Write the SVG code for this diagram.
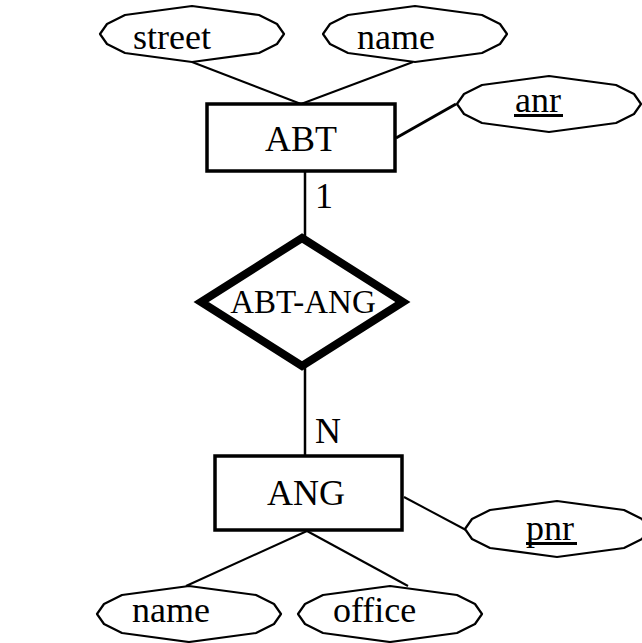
<svg xmlns="http://www.w3.org/2000/svg" xmlns:xlink="http://www.w3.org/1999/xlink" width="642" height="643" viewBox="0 0 642 643">
<style>
.t{font-family:"Liberation Serif","Times New Roman",serif;font-size:36px;fill:#000}
.ent{fill:#fff;stroke:#000;stroke-width:3.5}
.attr{fill:#fff;stroke:#000;stroke-width:2.2;stroke-linejoin:round}
.rel{fill:#fff;stroke:#000;stroke-width:8;stroke-linejoin:miter}
.c{stroke:#000;stroke-width:2;fill:none}
.ul{stroke:#000;stroke-width:3}
</style>
<defs>
<polygon id="ell" points="-92,0 -85,-10 -67,-19 0,-28 67,-19 85,-10 92,0 85,10 67,19 0,28 -67,19 -85,10"/>
</defs>
<rect width="642" height="643" fill="#fff"/>
<g id="connectors">
<line class="c" x1="192" y1="62" x2="301" y2="104"/>
<line class="c" x1="413" y1="62" x2="301" y2="104"/>
<line class="c" x1="396" y1="138" x2="456" y2="104" style="stroke-width:3"/>
<line class="c" x1="305" y1="172" x2="305" y2="238" style="stroke-width:2.5"/>
<line class="c" x1="305" y1="366" x2="305" y2="456" style="stroke-width:2.5"/>
<line class="c" x1="404" y1="497" x2="466" y2="530"/>
<line class="c" x1="307" y1="531" x2="186" y2="586"/>
<line class="c" x1="307" y1="531" x2="408" y2="586"/>
<text class="t" x="315" y="208">1</text>
<text class="t" x="315" y="443">N</text>
</g>
<g id="street">
<use xlink:href="#ell" href="#ell" class="attr" x="192" y="34"/>
<text class="t" x="133" y="49">street</text>
</g>
<g id="name_abt">
<use xlink:href="#ell" href="#ell" class="attr" x="415" y="34"/>
<text class="t" x="357" y="49">name</text>
</g>
<g id="anr">
<use xlink:href="#ell" href="#ell" class="attr" x="549" y="104"/>
<text class="t" x="515" y="112">anr</text>
<line class="ul" x1="514" y1="115.5" x2="563" y2="115.5"/>
</g>
<g id="ABT">
<rect class="ent" x="207" y="104" width="188" height="67"/>
<text class="t" x="301" y="151" text-anchor="middle">ABT</text>
</g>
<g id="ABT-ANG">
<polygon class="rel" points="302,238 403,302 302,366 201,302"/>
<text class="t" x="303" y="313" text-anchor="middle" style="font-size:33px">ABT-ANG</text>
</g>
<g id="ANG">
<rect class="ent" x="215" y="456" width="187" height="74"/>
<text class="t" x="306" y="505" text-anchor="middle">ANG</text>
</g>
<g id="pnr">
<use xlink:href="#ell" href="#ell" class="attr" x="557" y="529"/>
<text class="t" x="526" y="540">pnr</text>
<line class="ul" x1="526" y1="543.5" x2="577" y2="543.5"/>
</g>
<g id="name_ang">
<use xlink:href="#ell" href="#ell" class="attr" x="189" y="614"/>
<text class="t" x="132" y="622">name</text>
</g>
<g id="office">
<use xlink:href="#ell" href="#ell" class="attr" x="390" y="614"/>
<text class="t" x="333" y="622">office</text>
</g>
</svg>
